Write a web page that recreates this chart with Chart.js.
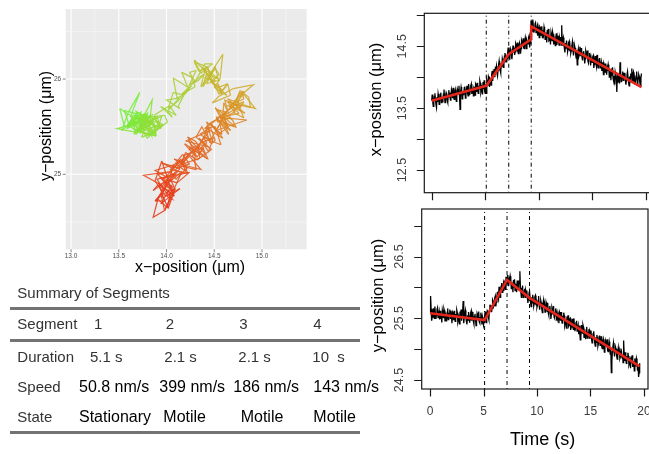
<!DOCTYPE html>
<html>
<head>
<meta charset="utf-8">
<script src="https://cdn.jsdelivr.net/npm/chart.js@4.4.1/dist/chart.umd.min.js"></script>
<style>
  html, body { margin: 0; padding: 0; width: 649px; height: 454px; overflow: hidden; background: #fff; }
  canvas { position: absolute; left: 0; top: 0; }
  #summary { position: absolute; left: 0; top: 0; width: 649px; height: 454px;
             font-family: "Liberation Sans", Arial, Helvetica, sans-serif; }
  .cell { position: absolute; white-space: pre; line-height: 20px; height: 20px; }
  .lbl { font-size: 15px; color: #333; }
  .val { font-size: 16px; color: #000; }
  .rule { position: absolute; left: 10px; width: 350px; height: 3px; background: #737373; }
</style>
</head>
<body>
<canvas id="track" width="652" height="454"></canvas>
<canvas id="xTrace" width="652" height="454"></canvas>
<canvas id="yTrace" width="652" height="454"></canvas>
<div id="summary"></div>

<script>
// ---- tracked particle, one sample every 0.05 s ----
const FRAME_S = 0.05;

// x-position (µm), one row per second
const xPos = [
  13.62, 13.72, 13.60, 13.53, 13.61, 13.69, 13.74, 13.64, 13.56, 13.51, 13.68, 13.60, 13.73, 13.67, 13.56, 13.61, 13.72, 13.75, 13.59, 13.65,
  13.60, 13.65, 13.73, 13.80, 13.67, 13.59, 13.70, 13.75, 13.72, 13.62, 13.59, 13.71, 13.79, 13.68, 13.75, 13.63, 13.67, 13.80, 13.76, 13.66,
  13.83, 13.68, 13.64, 13.76, 13.80, 13.72, 13.61, 13.69, 13.81, 13.78, 13.73, 13.86, 13.69, 13.48, 13.76, 13.84, 13.79, 13.65, 13.77, 13.72,
  13.73, 13.83, 13.85, 13.66, 13.72, 13.79, 13.86, 13.74, 13.70, 13.89, 13.80, 13.71, 13.77, 13.86, 13.89, 13.73, 13.78, 13.83, 13.70, 13.84,
  13.83, 13.71, 13.89, 13.87, 13.76, 13.91, 13.80, 13.74, 13.86, 13.81, 13.94, 13.90, 13.75, 13.79, 13.87, 13.72, 13.92, 13.81, 13.95, 13.77,
  13.74, 13.88, 13.74, 13.95, 13.91, 13.86, 14.01, 13.98, 13.84, 13.96, 13.93, 13.87, 14.03, 14.10, 13.94, 14.06, 14.01, 14.13, 14.00, 14.14,
  14.12, 14.18, 14.07, 14.02, 14.11, 14.20, 14.26, 14.17, 14.11, 14.07, 14.23, 14.16, 14.30, 14.26, 14.16, 14.22, 14.34, 14.39, 14.24, 14.31,
  14.24, 14.30, 14.40, 14.48, 14.36, 14.29, 14.40, 14.46, 14.43, 14.34, 14.29, 14.42, 14.51, 14.40, 14.48, 14.36, 14.41, 14.54, 14.51, 14.42,
  14.56, 14.42, 14.38, 14.51, 14.55, 14.48, 14.38, 14.46, 14.59, 14.56, 14.50, 14.63, 14.47, 14.46, 14.55, 14.64, 14.59, 14.46, 14.58, 14.54,
  14.54, 14.64, 14.67, 14.48, 14.55, 14.70, 14.91, 14.79, 14.74, 14.93, 14.81, 14.72, 14.77, 14.86, 14.88, 14.72, 14.76, 14.81, 14.67, 14.81,
  14.76, 14.64, 14.81, 14.79, 14.67, 14.82, 14.70, 14.64, 14.76, 14.70, 14.81, 14.76, 14.61, 14.64, 14.72, 14.56, 14.76, 14.64, 14.78, 14.59,
  14.60, 14.67, 14.53, 14.72, 14.67, 14.59, 14.73, 14.69, 14.53, 14.63, 14.58, 14.51, 14.65, 14.71, 14.52, 14.63, 14.56, 14.67, 14.52, 14.64,
  14.60, 14.65, 14.52, 14.84, 14.52, 14.60, 14.64, 14.54, 14.46, 14.40, 14.55, 14.46, 14.59, 14.52, 14.41, 14.45, 14.56, 14.58, 14.42, 14.47,
  14.39, 14.43, 14.51, 14.57, 14.44, 14.35, 14.46, 14.51, 14.47, 14.37, 14.31, 14.43, 14.20, 14.39, 14.45, 14.33, 14.36, 14.49, 14.44, 14.34,
  14.47, 14.32, 14.27, 14.39, 14.42, 14.34, 14.22, 14.30, 14.42, 14.38, 14.31, 14.43, 14.26, 14.23, 14.32, 14.39, 14.34, 14.19, 14.31, 14.25,
  14.24, 14.33, 14.35, 14.15, 14.21, 14.27, 14.34, 14.22, 14.17, 14.36, 14.24, 14.15, 14.20, 14.29, 14.31, 14.15, 14.19, 14.24, 14.10, 14.24,
  14.17, 14.04, 14.22, 14.19, 14.08, 14.22, 14.10, 14.04, 14.15, 14.10, 14.20, 14.15, 14.00, 14.03, 14.11, 13.95, 14.14, 14.03, 14.16, 13.98,
  13.94, 14.02, 13.88, 14.08, 14.03, 13.96, 13.76, 14.06, 13.91, 14.01, 13.97, 13.90, 14.24, 14.11, 13.93, 14.04, 13.98, 14.09, 13.95, 14.07,
  14.02, 14.07, 13.95, 13.88, 13.96, 14.04, 14.09, 13.99, 13.91, 13.86, 14.01, 13.93, 14.06, 14.00, 14.14, 13.94, 14.05, 14.08, 13.92, 13.98,
  13.89, 13.94, 14.02, 14.09, 13.96, 13.88, 13.99, 14.04, 14.01, 13.91, 13.86, 13.98, 14.06
];

// y-position (µm), one row per second
const yPos = [
  25.60, 25.86, 25.65, 25.46, 25.52, 25.59, 25.66, 25.54, 25.50, 25.69, 25.58, 25.49, 25.55, 25.64, 25.67, 25.51, 25.56, 25.61, 25.48, 25.62,
  25.49, 25.57, 25.43, 25.63, 25.58, 25.51, 25.65, 25.61, 25.46, 25.56, 25.52, 25.45, 25.60, 25.66, 25.48, 25.59, 25.53, 25.64, 25.50, 25.62,
  25.54, 25.42, 25.60, 25.58, 25.47, 25.62, 25.51, 25.45, 25.57, 25.52, 25.63, 25.59, 25.44, 25.48, 25.56, 25.41, 25.61, 25.50, 25.64, 25.46,
  25.56, 25.61, 25.78, 25.42, 25.50, 25.58, 25.63, 25.53, 25.45, 25.40, 25.55, 25.47, 25.60, 25.54, 25.43, 25.48, 25.59, 25.62, 25.46, 25.52,
  25.60, 25.45, 25.41, 25.53, 25.57, 25.49, 25.38, 25.46, 25.58, 25.55, 25.48, 25.61, 25.44, 25.42, 25.51, 25.59, 25.54, 25.40, 25.52, 25.47,
  25.39, 25.44, 25.52, 25.61, 25.49, 25.43, 25.55, 25.62, 25.60, 25.52, 25.48, 25.62, 25.72, 25.62, 25.71, 25.60, 25.66, 25.80, 25.78, 25.69,
  25.71, 25.83, 25.86, 25.69, 25.76, 25.85, 25.93, 25.83, 25.80, 26.01, 25.91, 25.84, 25.92, 26.02, 26.07, 25.92, 25.99, 26.05, 25.94, 26.09,
  26.07, 25.97, 26.16, 26.16, 26.06, 26.20, 26.09, 26.02, 26.13, 26.08, 26.18, 26.13, 25.98, 26.01, 26.08, 25.92, 26.12, 26.00, 26.13, 25.95,
  25.99, 26.06, 25.92, 26.11, 26.05, 25.97, 26.11, 26.06, 26.26, 26.00, 25.91, 25.83, 25.98, 26.03, 25.84, 25.95, 25.88, 25.98, 25.84, 25.95,
  25.91, 25.95, 25.83, 25.75, 25.82, 25.90, 25.94, 25.84, 25.75, 25.69, 25.84, 25.75, 25.88, 25.81, 25.70, 25.74, 25.85, 25.87, 25.71, 25.76,
  25.68, 25.72, 25.79, 25.86, 25.72, 25.64, 25.74, 25.79, 25.75, 25.65, 25.59, 25.71, 25.78, 25.67, 25.73, 25.60, 25.64, 25.76, 25.72, 25.61,
  25.75, 25.59, 25.55, 25.66, 25.70, 25.61, 25.49, 25.57, 25.68, 25.65, 25.57, 25.70, 25.52, 25.50, 25.58, 25.66, 25.60, 25.46, 25.57, 25.51,
  25.55, 25.42, 25.60, 25.57, 25.46, 25.60, 25.49, 25.42, 25.54, 25.48, 25.59, 25.54, 25.38, 25.42, 25.49, 25.34, 25.53, 25.42, 25.55, 25.37,
  25.39, 25.49, 25.50, 25.31, 25.36, 25.42, 25.49, 25.36, 25.32, 25.50, 25.39, 25.29, 25.35, 25.43, 25.46, 25.29, 25.33, 25.38, 25.24, 25.38,
  25.26, 25.15, 25.19, 25.39, 25.33, 25.26, 25.39, 25.35, 25.19, 25.28, 25.24, 25.16, 25.31, 25.36, 25.18, 25.28, 25.22, 25.32, 25.18, 25.29,
  25.26, 25.30, 25.17, 25.10, 25.17, 25.25, 25.29, 25.19, 25.10, 25.05, 25.19, 25.11, 25.23, 25.17, 25.05, 25.09, 25.20, 25.22, 25.06, 25.11,
  25.21, 25.05, 25.01, 25.12, 25.16, 25.07, 24.95, 25.03, 25.14, 25.11, 25.03, 25.16, 24.98, 24.96, 25.04, 25.12, 25.06, 24.92, 25.03, 24.62,
  24.80, 24.96, 25.04, 25.10, 24.97, 24.88, 24.99, 25.03, 25.00, 24.89, 24.84, 24.95, 25.02, 24.91, 24.97, 24.85, 24.88, 25.01, 24.96, 24.86,
  24.90, 24.78, 25.14, 24.93, 24.81, 24.95, 24.84, 24.77, 24.89, 24.83, 24.94, 24.89, 24.74, 24.77, 24.85, 24.69, 24.88, 24.77, 24.90, 24.72,
  24.72, 24.80, 24.65, 24.85, 24.79, 24.72, 24.85, 24.81, 24.65, 24.74, 24.55, 24.62, 24.77
];

// ---- segment summary ----
const rowLabels    = ['Segment', 'Duration', 'Speed', 'State'];
const segIds       = ['1', '2', '3', '4'];
const segDurations = [5.1, 2.1, 2.1, 10];      // s
const segSpeeds    = [50.8, 399, 186, 143];    // nm/s
const segStates    = ['Stationary', 'Motile', 'Motile', 'Motile'];

// piecewise-linear fits: value at the start and end of each segment
const fitXStart = [13.62, 13.86, 14.37, 14.82];
const fitXEnd   = [13.86, 14.37, 14.61, 13.84];
const fitYStart = [25.58, 25.47, 26.12, 25.83];
const fitYEnd   = [25.47, 26.12, 25.83, 24.72];

// axis ticks
const traceTimeTicks = [0, 5, 10, 15, 20];
const xTraceTicks    = [12.5, 13, 13.5, 14, 14.5, 15];
const xTraceLabels   = [12.5, 13.5, 14.5];
const yTraceTicks    = [24.5, 25, 25.5, 26, 26.5, 27];
const yTraceLabels   = [24.5, 25.5, 26.5];
const trackXMajor = [13, 13.5, 14, 14.5, 15];
const trackXMinor = [13.25, 13.75, 14.25, 14.75, 15.25];
const trackYMajor = [25, 26];
const trackYMinor = [24.5, 25.5, 26.5];

// ---- derived series ----
const times = xPos.map((_, i) => +(i * FRAME_S).toFixed(2));
const tEnd = times[times.length - 1];
const breaks = [];
segDurations.slice(0, -1).reduce((acc, d) => { const b = +(acc + d).toFixed(1); breaks.push(b); return b; }, 0);
const segStartT = [0, ...breaks];
const segEndT = [...breaks, tEnd];

function fitPoints(starts, ends) {
  const pts = [];
  starts.forEach((v, i) => {
    pts.push({ x: segStartT[i], y: v });
    pts.push({ x: segEndT[i], y: ends[i] });
  });
  return pts;
}

const FONT = '"Liberation Sans", Arial, Helvetica, sans-serif';
const MINUS = '\u2212';

// ---- base-graphics style frame for the time traces ----
const traceFrame = {
  id: 'traceFrame',
  afterDatasetsDraw(chart, args, o) {
    const { ctx, chartArea: a, scales: { x, y } } = chart;
    ctx.save();
    ctx.strokeStyle = '#1a1a1a';
    ctx.lineWidth = 1.2;
    ctx.strokeRect(a.left, a.top, a.right - a.left, a.bottom - a.top);
    ctx.beginPath();
    o.yTicks.forEach(v => { const p = Math.round(y.getPixelForValue(v)) + 0.5; ctx.moveTo(a.left, p); ctx.lineTo(a.left - 7.5, p); });
    o.xTicks.forEach(v => { const p = Math.round(x.getPixelForValue(v)) + 0.5; ctx.moveTo(p, a.bottom); ctx.lineTo(p, a.bottom + 7.5); });
    ctx.stroke();

    ctx.fillStyle = '#3c3c3c';
    ctx.font = `12.5px ${FONT}`;
    ctx.textAlign = 'center';
    ctx.textBaseline = 'middle';
    o.yLabels.forEach(v => {
      ctx.save();
      ctx.translate(a.left - 22, y.getPixelForValue(v));
      ctx.rotate(-Math.PI / 2);
      ctx.fillText(v.toFixed(1), 0, 0);
      ctx.restore();
    });
    if (o.xLabels) {
      ctx.font = `12px ${FONT}`;
      o.xLabels.forEach(v => ctx.fillText(String(v), x.getPixelForValue(v), a.bottom + 22.5));
    }

    ctx.fillStyle = '#000';
    ctx.font = `16.5px ${FONT}`;
    ctx.save();
    ctx.translate(o.yTitleX, (a.top + a.bottom) / 2 - 3.5);
    ctx.rotate(-Math.PI / 2);
    ctx.fillText(o.yTitle, 0, 0);
    ctx.restore();
    if (o.xTitle) {
      ctx.font = `18px ${FONT}`;
      ctx.fillText(o.xTitle, o.xTitleX, o.xTitleY);
    }
    ctx.restore();
  }
};

// ---- ggplot style panel for the 2-D track ----
const trackPanel = {
  id: 'trackPanel',
  beforeDatasetsDraw(chart) {
    const { ctx, chartArea: a, scales: { x, y } } = chart;
    ctx.save();
    ctx.fillStyle = '#EBEBEB';
    ctx.fillRect(a.left, a.top, a.right - a.left, a.bottom - a.top);
    const vline = (v, w) => { ctx.lineWidth = w; ctx.beginPath(); const p = x.getPixelForValue(v); ctx.moveTo(p, a.top); ctx.lineTo(p, a.bottom); ctx.stroke(); };
    const hline = (v, w) => { ctx.lineWidth = w; ctx.beginPath(); const p = y.getPixelForValue(v); ctx.moveTo(a.left, p); ctx.lineTo(a.right, p); ctx.stroke(); };
    ctx.strokeStyle = '#FAFAFA';
    trackXMinor.forEach(v => vline(v, 0.55));
    trackYMinor.forEach(v => hline(v, 0.55));
    ctx.strokeStyle = '#FFFFFF';
    trackXMajor.forEach(v => vline(v, 1.1));
    trackYMajor.forEach(v => hline(v, 1.1));
    ctx.restore();
  },
  afterDraw(chart) {
    const { ctx, chartArea: a, scales: { x, y } } = chart;
    ctx.save();
    ctx.strokeStyle = '#333';
    ctx.lineWidth = 0.6;
    ctx.beginPath();
    trackXMajor.forEach(v => { const p = x.getPixelForValue(v); ctx.moveTo(p, a.bottom); ctx.lineTo(p, a.bottom + 3); });
    trackYMajor.forEach(v => { const p = y.getPixelForValue(v); ctx.moveTo(a.left, p); ctx.lineTo(a.left - 3, p); });
    ctx.stroke();
    ctx.fillStyle = '#4D4D4D';
    ctx.font = `6.5px ${FONT}`;
    ctx.textAlign = 'center';
    ctx.textBaseline = 'middle';
    trackXMajor.forEach(v => ctx.fillText(v.toFixed(1), x.getPixelForValue(v), a.bottom + 7));
    ctx.textAlign = 'right';
    trackYMajor.forEach(v => ctx.fillText(String(v), a.left - 4.5, y.getPixelForValue(v)));

    ctx.fillStyle = '#000';
    ctx.font = `16px ${FONT}`;
    ctx.textAlign = 'center';
    ctx.fillText(`x${MINUS}position (\u03BCm)`, 190, 268);
    ctx.save();
    ctx.translate(46.5, 126);
    ctx.rotate(-Math.PI / 2);
    ctx.fillText(`y${MINUS}position (\u03BCm)`, 0, 0);
    ctx.restore();
    ctx.restore();
  }
};

// colour ramp along the track (start -> end)
const rampStops = [
  [0.00, [116, 240, 60]],
  [0.25, [146, 222, 58]],
  [0.38, [188, 196, 52]],
  [0.50, [214, 164, 44]],
  [0.68, [224, 118, 40]],
  [1.00, [232, 58, 30]]
];
function rampColor(f) {
  for (let i = 1; i < rampStops.length; i++) {
    const [f1, c1] = rampStops[i];
    const [f0, c0] = rampStops[i - 1];
    if (f <= f1) {
      const u = (f - f0) / (f1 - f0);
      const c = c0.map((v, k) => Math.round(v + (c1[k] - v) * u));
      return `rgba(${c[0]},${c[1]},${c[2]},0.92)`;
    }
  }
  const c = rampStops[rampStops.length - 1][1];
  return `rgba(${c[0]},${c[1]},${c[2]},0.92)`;
}

const common = {
  responsive: false,
  animation: false,
  events: [],
  plugins: { legend: { display: false }, tooltip: { enabled: false } },
  elements: { point: { radius: 0 }, line: { tension: 0 } }
};

// ---- 2-D track ----
const trackData = xPos.map((v, i) => ({ x: v, y: yPos[i] }));
new Chart(document.getElementById('track'), {
  type: 'scatter',
  data: {
    datasets: [{
      data: trackData,
      showLine: true,
      borderWidth: 1.2,
      borderColor: rampColor(0),
      segment: { borderColor: c => rampColor(c.p0DataIndex / (trackData.length - 1)) }
    }]
  },
  options: {
    ...common,
    layout: { padding: { left: 65.7, top: 9, right: 652 - 306.7, bottom: 454 - 249.3 } },
    scales: {
      x: { type: 'linear', display: false, min: 12.944, max: 15.468 },
      y: { type: 'linear', display: false, min: 24.213, max: 26.735 }
    }
  },
  plugins: [trackPanel]
});

// ---- time traces ----
function traceChart(id, values, fitStart, fitEnd, pad, yMin, yMax, tMin, tMax, frame) {
  const breakSets = breaks.map(b => ({
    data: [{ x: b, y: yMin }, { x: b, y: yMax }],
    showLine: true, borderColor: '#000', borderWidth: 1, borderDash: [1, 3, 4, 3]
  }));
  new Chart(document.getElementById(id), {
    type: 'scatter',
    data: {
      datasets: [
        { data: fitPoints(fitStart, fitEnd), showLine: true, borderColor: '#E5261C', borderWidth: 2.6 },
        ...breakSets,
        { data: values.map((v, i) => ({ x: times[i], y: v })), showLine: true, borderColor: '#000', borderWidth: 1.3 }
      ]
    },
    options: {
      ...common,
      layout: { padding: pad },
      scales: {
        x: { type: 'linear', display: false, min: tMin, max: tMax },
        y: { type: 'linear', display: false, min: yMin, max: yMax }
      },
      plugins: { ...common.plugins, traceFrame: frame }
    },
    plugins: [traceFrame]
  });
}

traceChart('xTrace', xPos, fitXStart, fitXEnd,
  { left: 424.3, top: 13.3, right: 2, bottom: 454 - 192.7 },
  12.133, 15.032, -0.69, 20.4,
  { yTicks: xTraceTicks, yLabels: xTraceLabels, xTicks: traceTimeTicks,
    yTitle: `x${MINUS}position (\u03BCm)`, yTitleX: 376 });

traceChart('yTrace', yPos, fitYStart, fitYEnd,
  { left: 421.7, top: 209, right: 4, bottom: 454 - 389 },
  24.354, 27.27, -0.78, 20.38,
  { yTicks: yTraceTicks, yLabels: yTraceLabels, xTicks: traceTimeTicks, xLabels: traceTimeTicks,
    yTitle: `y${MINUS}position (\u03BCm)`, yTitleX: 378.5,
    xTitle: 'Time (s)', xTitleX: 542.7, xTitleY: 440 });

// ---- summary table ----
const summary = document.getElementById('summary');
function addText(text, left, midY, cls) {
  const d = document.createElement('div');
  d.className = 'cell ' + cls;
  d.style.left = left + 'px';
  d.style.top = (midY - 10) + 'px';
  d.textContent = text;
  summary.appendChild(d);
}
function addRule(midY) {
  const r = document.createElement('div');
  r.className = 'rule';
  r.style.top = (midY - 1.5) + 'px';
  summary.appendChild(r);
}

addText('Summary of Segments', 17.3, 292.7, 'lbl');
addRule(308.3);
addRule(340.7);
addRule(432.7);

const rowMid = [324.3, 357.3, 386.7, 416.7];
const colLeft = [
  [94, 165.7, 239.3, 313.3],
  [90, 164.3, 238.3, 312.3],
  [79, 159.3, 233.3, 313.3],
  [79, 163.3, 240.7, 313.3]
];
const rowValues = [
  segIds,
  segDurations.map(d => `${String(d).padEnd(3)} s`),
  segSpeeds.map(s => `${s} nm/s`),
  segStates
];
rowLabels.forEach((lab, r) => {
  addText(lab, 17.3, rowMid[r], 'lbl');
  rowValues[r].forEach((v, c) => addText(v, colLeft[r][c], rowMid[r], r < 2 ? 'lbl' : 'val'));
});
</script>
</body>
</html>
